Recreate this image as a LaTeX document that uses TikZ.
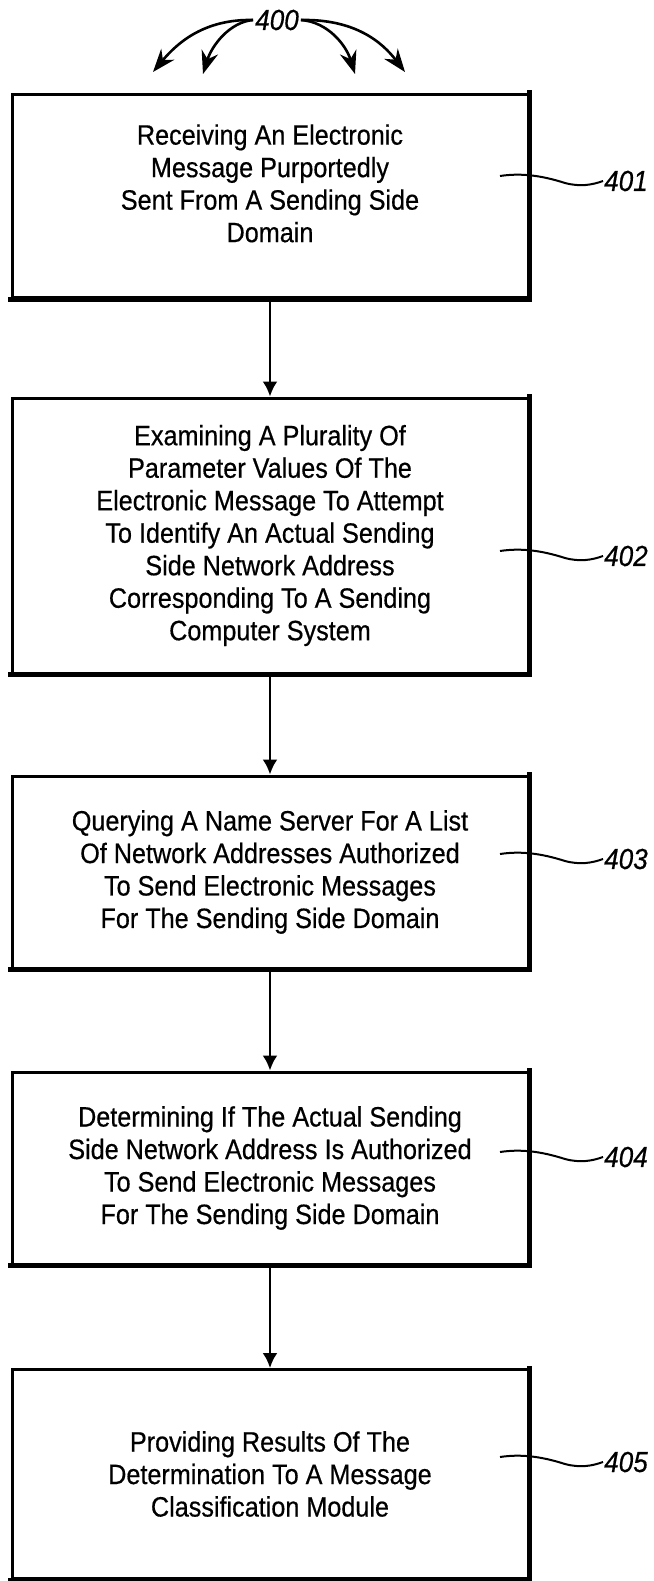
\documentclass[tikz,border=0pt]{standalone}
\usepackage{fontspec}
\setmainfont{Liberation Sans}[FakeStretch=0.9, FakeBold=0.5]
\usetikzlibrary{arrows.meta}
\begin{document}
\begin{tikzpicture}[x=1pt, y=-1pt,
	stepbox/.style = {draw, line width=3pt, rectangle, minimum width=516pt, inner sep=0pt, align=center, font=\fontsize{28}{32.5}\selectfont},
	heavy/.style = {line width=5pt, line cap=rect},
	reflabel/.style = {anchor=west, inner sep=1pt, font=\fontsize{29}{30}\selectfont\itshape},
	flow/.style = {line width=2.6pt, -{Latex[length=15pt,width=15pt]}},
	lead/.style = {line width=2pt},
	fan/.style = {line width=2.6pt, -{Stealth[length=23pt,width=17pt]}}]
	\useasboundingbox (0,0) rectangle (653,1581);

	\node[stepbox, minimum height=203pt] at (270, 196) (a) {Receiving An Electronic\\ Message Purportedly\\ Sent From A Sending Side\\ Domain\\[-7pt]\mbox{}};
	\node[stepbox, minimum height=275pt] at (270, 535.5) (b) {Examining A Plurality Of\\ Parameter Values Of The\\ Electronic Message To Attempt\\ To Identify An Actual Sending\\ Side Network Address\\ Corresponding To A Sending\\ Computer System};
	\node[stepbox, minimum height=192pt] at (270, 872) (c) {Querying A Name Server For A List\\ Of Network Addresses Authorized\\ To Send Electronic Messages\\ For The Sending Side Domain};
	\node[stepbox, minimum height=192pt] at (270, 1168) (d) {Determining If The Actual Sending\\ Side Network Address Is Authorized\\ To Send Electronic Messages\\ For The Sending Side Domain};
	\node[stepbox, minimum height=209pt] at (270, 1474) (e) {Providing Results Of The\\ Determination To A Message\\ Classification Module};
	\foreach \b in {a,b,c,d,e}
		\draw[heavy] (\b.south west) -- (\b.south east) -- (\b.north east);

	\draw[flow] (a) -- (b);
	\draw[flow] (b) -- (c);
	\draw[flow] (c) -- (d);
	\draw[flow] (d) -- (e);

	% reference numerals
	\node[reflabel] at (603, 181) (n401) {401};
	\node[reflabel] at (603, 556) (n402) {402};
	\node[reflabel] at (603, 859) (n403) {403};
	\node[reflabel] at (603, 1157) (n404) {404};
	\node[reflabel] at (603, 1462) (n405) {405};
	\foreach \n/\y in {401/176, 402/551, 403/854, 404/1152, 405/1457} {
		\coordinate (p\n) at (500, \y);
		\draw[lead] (p\n) .. controls (520, \y-3) and (540, \y-1) .. (565, \y+7)
			.. controls (580, \y+11) and (592, \y+9) .. (n\n.west);
	}

	% figure number with its arrows
	\node[font=\fontsize{29}{30}\selectfont\itshape, inner sep=2pt] at (277, 20) (n400) {400};
	\coordinate (t1) at (153, 72);
	\coordinate (t2) at (203, 74);
	\coordinate (t3) at (355, 74);
	\coordinate (t4) at (405, 72);
	\draw[fan] (n400.west) .. controls (205, 19) and (178, 42) .. (t1);
	\draw[fan] (n400.west) .. controls (230, 22) and (212, 45) .. (t2);
	\draw[fan] (n400.east) .. controls (328, 22) and (346, 45) .. (t3);
	\draw[fan] (n400.east) .. controls (355, 19) and (382, 42) .. (t4);
\end{tikzpicture}
\end{document}
